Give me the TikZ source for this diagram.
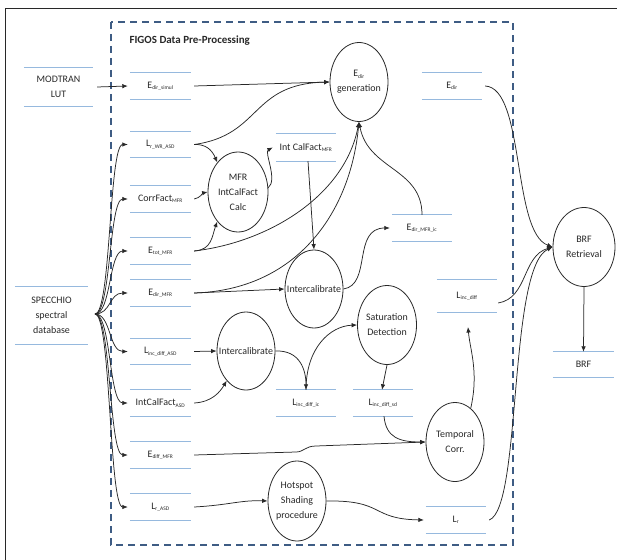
\documentclass[tikz,border=0pt]{standalone}
\usepackage{fontspec}
\setmainfont{Carlito}
\usetikzlibrary{shapes.geometric,arrows.meta}
\definecolor{storeblue}{RGB}{150,185,222}
\definecolor{dashblue}{RGB}{62,92,132}
\definecolor{ink}{RGB}{40,40,40}
\newcommand{\sbs}[1]{\textsubscript{\fontsize{5.5}{6}\selectfont #1}}
\begin{document}
\begin{tikzpicture}[x=1bp,y=-1bp,
  every node/.style={font=\fontsize{10}{15}\selectfont, text=ink},
  store/.style 2 args={rectangle, inner sep=0pt, align=center, minimum width=#1, minimum height=#2},
  proc/.style 2 args={ellipse, draw=ink, line width=0.8bp, inner sep=0pt, minimum width=#1, minimum height=#2},
  ptext/.style={align=center, inner sep=0pt},
  conn/.style={draw=ink, line width=0.75bp, -{Latex[length=5.5bp,width=4.5bp]}},
  link/.style={draw=ink, line width=0.75bp},
  bline/.style={draw=storeblue, line width=1.1bp}
]
\useasboundingbox (0,0) rectangle (617,560);
\draw[line width=0.8bp, ink] (5,560) -- (5,8) -- (617,8);
\draw[dashblue, line width=1.5bp, dash pattern=on 7bp off 5bp] (111,22) rectangle (513,545);
\node[anchor=west, font=\fontsize{11}{13}\selectfont\bfseries] (title) at (126,41) {FIGOS Data Pre-Processing};

% stores
\node[store={69bp}{38bp}] (modtran) at (58.5,87) {MODTRAN\\LUT};
\node[store={73bp}{57bp}] (specchio) at (51.5,315.5) {SPECCHIO\\spectral\\database};
\node[store={61bp}{26bp}] (edsim) at (160.5,86) {E\sbs{dir\_simul}};
\node[store={61bp}{25bp}] (lrwr) at (160.5,144.5) {L\sbs{r\_WR\_ASD}};
\node[store={61bp}{26bp}] (corr) at (160.5,199) {CorrFact\sbs{MFR}};
\node[store={61bp}{26bp}] (etot) at (160.5,251) {E\sbs{tot\_MFR}};
\node[store={61bp}{26bp}] (edmfr) at (160.5,293) {E\sbs{dir\_MFR}};
\node[store={61bp}{25bp}] (lida) at (160.5,351.5) {L\sbs{inc\_diff\_ASD}};
\node[store={61bp}{26bp}] (icfa) at (160.5,403) {IntCalFact\sbs{ASD}};
\node[store={61bp}{26bp}] (edif) at (160.5,455) {E\sbs{diff\_MFR}};
\node[store={61bp}{26bp}] (lra) at (160.5,507) {L\sbs{r\_ASD}};
\node[store={60bp}{26bp}] (edir) at (452,86) {E\sbs{dir}};
\node[store={60bp}{27bp}] (icfm) at (306,147.5) {Int CalFact\sbs{MFR}};
\node[store={60bp}{26bp}] (edmic) at (422,228) {E\sbs{dir\_MFR\_ic}};
\node[store={60bp}{32bp}] (lid) at (467,296) {L\sbs{inc\_diff}};
\node[store={60bp}{26bp}] (lidic) at (306,403) {L\sbs{inc\_diff\_ic}};
\node[store={60bp}{26bp}] (lidsd) at (383,403) {L\sbs{inc\_diff\_sd}};
\node[store={60bp}{26bp}] (lr) at (456,520) {L\sbs{r}};
\node[store={61bp}{25bp}] (brf) at (583.5,364.5) {BRF};
\foreach \n in {modtran,specchio,edsim,lrwr,corr,etot,edmfr,lida,icfa,edif,lra,edir,icfm,edmic,lid,lidic,lidsd,lr,brf}
  \draw[bline] (\n.north west) -- (\n.north east) (\n.south west) -- (\n.south east);

% processes
\node[proc={58bp}{79bp}] (egen) at (359,82) {};
\node[ptext] at (egen) {E\sbs{dir}\\generation};
\node[proc={60bp}{80bp}] (mfr) at (238,192) {};
\node[ptext] at (mfr) {MFR\\IntCalFact\\Calc};
\node[proc={58bp}{78bp}] (ic1) at (314,289) {};
\node[ptext] at (ic1) {Intercalibrate};
\node[proc={59bp}{79bp}] (sat) at (387,325) {};
\node[ptext] at (sat) {Saturation\\Detection};
\node[proc={58bp}{78bp}] (ic2) at (246,351) {};
\node[ptext] at (ic2) {Intercalibrate};
\node[proc={58bp}{79bp}] (temp) at (455,442) {};
\node[ptext] at (temp) {Temporal\\Corr.};
\node[proc={58bp}{80bp}] (hot) at (297,501) {};
\node[ptext] at (hot) {Hotspot\\Shading\\procedure};
\node[proc={62bp}{79bp}] (brfr) at (584,247) {};
\node[ptext] at (brfr) {BRF\\Retrieval};

% fan from SPECCHIO
\coordinate (fan) at (95,314);
\foreach \n in {lrwr,corr,etot,edmfr,lida,icfa,edif,lra}
  \draw[conn] (fan) .. controls (111,314) and (109,0|-\n.west) .. ([xshift=-2bp]\n.west);

% connectors
\draw[conn] ([xshift=4bp]modtran.east) -- ([xshift=-2bp]edsim.west);
\draw[conn] ([xshift=3bp]edsim.east) -- (egen.west);
\draw[conn] ([xshift=3bp]lrwr.east) .. controls (262,135) and (250,84) .. (egen.west);
\draw[conn] ([xshift=3bp]lrwr.east) .. controls (206,144) and (212,150) .. (mfr.125);
\draw[conn] ([xshift=3bp]corr.east) .. controls (200,198) and (203,193) .. (mfr.west);
\draw[conn] ([xshift=3bp]etot.east) .. controls (212,250) and (212,236) .. (mfr.235);
\draw[conn] ([xshift=3bp]etot.east) .. controls (270,242) and (345,195) .. (egen.south);
\draw[conn] ([xshift=3bp]edmfr.east) .. controls (295,290) and (350,215) .. (egen.south);
\draw[conn] ([xshift=3bp]edmfr.east) -- (ic1.west);
\draw[conn] (mfr.8) .. controls (278,180) and (264,152) .. ([xshift=-3bp]icfm.west);
\draw[conn] ([xshift=2bp]icfm.south) -- (ic1.north);
\draw[conn] (ic1.east) .. controls (372,285) and (352,228) .. ([xshift=-2bp]edmic.west);
\draw[conn] (edmic.north) .. controls (422,168) and (368,170) .. (egen.south);
\draw[conn] ([xshift=3bp]lida.east) -- (ic2.west);
\draw[conn] ([xshift=3bp]icfa.east) .. controls (212,402) and (220,392) .. (ic2.237);
\draw[conn] (ic2.east) .. controls (300,350) and (306,370) .. (lidic.north);
\draw[conn] (lidic.north) .. controls (306,348) and (330,326) .. (sat.west);
\draw[conn] (sat.south) -- ([xshift=-1bp]lidsd.north);
\draw[conn] ([xshift=1bp]lidsd.south) .. controls (386,438) and (400,442) .. (temp.west);
\draw[conn] ([xshift=3bp]edif.east) -- (296,452) .. controls (304,452) and (305,446) .. (316,446) -- (temp.west);
\coordinate (lidin) at (468,327);
\draw[conn] (temp.65) .. controls (479,372) and (470,350) .. (lidin);
\draw[conn] ([xshift=3bp]lra.east) .. controls (230,505) and (240,500) .. (hot.west);
\draw[conn] (hot.east) .. controls (385,500) and (370,519) .. ([xshift=-2bp]lr.west);
\draw[conn] ([xshift=3bp]edir.east) .. controls (525,88) and (512,232) .. (brfr.west);
\draw[conn] ([xshift=1bp,yshift=-7bp]lid.east) .. controls (528,298) and (522,256) .. (brfr.west);
\draw[conn] ([xshift=3bp]lr.east) .. controls (522,508) and (508,268) .. (brfr.west);
\draw[conn] (brfr.south) -- (brf.north);
\end{tikzpicture}
\end{document}
